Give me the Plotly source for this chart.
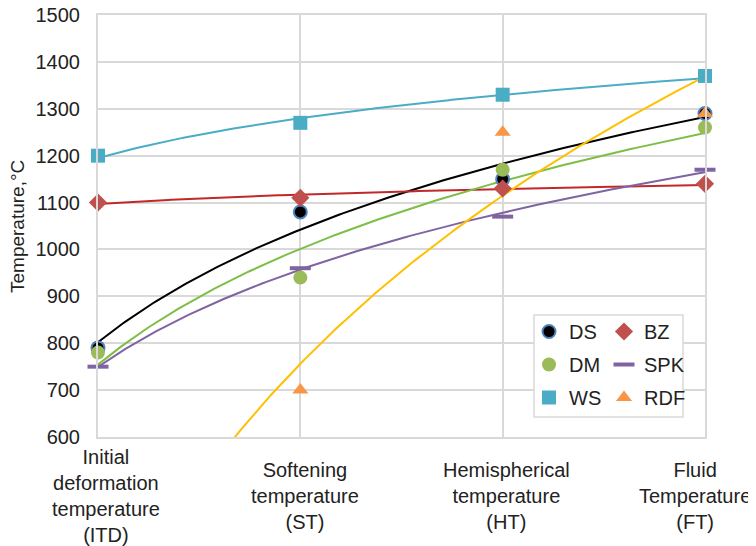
import numpy as np
import plotly.graph_objects as go

categories = ["Initial<br>deformation<br>temperature<br>(ITD)",
              "Softening<br>temperature<br>(ST)",
              "Hemispherical<br>temperature<br>(HT)",
              "Fluid<br>Temperature<br>(FT)"]
x_pos = [1, 2, 3, 4]

DS = [790, 1080, 1150, 1290]
BZ = [1100, 1110, 1130, 1140]
DM = [780, 940, 1170, 1260]
SPK = [750, 960, 1070, 1170]
WS = [1200, 1270, 1330, 1370]
RDF = [None, 700, 1250, 1290]

y_ticks = [600, 700, 800, 900, 1000, 1100, 1200, 1300, 1400, 1500]

series = [
    ("DS", DS, dict(symbol="circle", size=13, color="#000000", line=dict(color="#4F81BD", width=2)), "legend", "#000000"),
    ("BZ", BZ, dict(symbol="diamond", size=14, color="#C0504D", line=dict(width=0)), "legend2", "#C0282A"),
    ("DM", DM, dict(symbol="circle", size=14, color="#9BBB59", line=dict(width=0)), "legend", "#7DBE45"),
    ("SPK", SPK, dict(symbol="line-ew", size=15, color="#8064A2", line=dict(color="#8064A2", width=4)), "legend2", "#8064A2"),
    ("WS", WS, dict(symbol="square", size=14, color="#4BACC6", line=dict(width=0)), "legend", "#4BACC6"),
    ("RDF", RDF, dict(symbol="triangle-up", size=14, color="#F79646", line=dict(width=0)), "legend2", "#FFC000"),
]

fig = go.Figure()

xs = np.linspace(1, 4, 200)
# trendlines (logarithmic least-squares fit of each series, like a spreadsheet trendline)
for name, vals, mk, lg, tcol in series:
    px = np.array([x for x, v in zip(x_pos, vals) if v is not None], dtype=float)
    py = np.array([v for v in vals if v is not None], dtype=float)
    a, b = np.polyfit(np.log(px), py, 1)
    fig.add_trace(go.Scatter(x=xs, y=a * np.log(xs) + b, mode="lines",
                             line=dict(color=tcol, width=2), showlegend=False,
                             hoverinfo="skip"))

for name, vals, mk, lg, tcol in series:
    fig.add_trace(go.Scatter(x=x_pos, y=vals, mode="markers", name=name,
                             marker=mk, legend=lg, legendgroup=name, cliponaxis=False))

# the page body adds an 8px offset; figure is sized so the plot lands where the reference has it
OFF = 8
W, H = 756 - OFF, 546 - OFF
PL, PR, PT, PB = 98, 705, 15, 437          # target plot-area edges in window pixels
L, R, T, B = PL - OFF, 756 - PR, PT - OFF, 546 - PB
pw, ph = PR - PL, PB - PT

def px2x(p):
    return (p - PL) / pw

def py2y(p):
    return (PB - p) / ph

font = "Liberation Sans, Arial, sans-serif"
txt = "#222222"

leg_common = dict(orientation="v", bgcolor="rgba(0,0,0,0)", borderwidth=0,
                  font=dict(family=font, size=20, color=txt),
                  xanchor="left", yanchor="top", tracegroupgap=4, itemwidth=30)

fig.update_layout(
    width=W, height=H,
    margin=dict(l=L, r=R, t=T, b=B, autoexpand=False),
    paper_bgcolor="white", plot_bgcolor="white",
    font=dict(family=font, size=20, color=txt),
    xaxis=dict(range=[1, 4], tickvals=x_pos, ticktext=[""] * 4, automargin=False,
               showgrid=True, gridcolor="#D9D9D9", gridwidth=1.5,
               showline=True, linecolor="#D9D9D9", linewidth=2, mirror=True,
               zeroline=False, ticks=""),
    yaxis=dict(range=[600, 1500], tickvals=y_ticks, automargin=False,
               ticklabeloverflow="allow",
               showgrid=True, gridcolor="#D9D9D9", gridwidth=1.5,
               showline=True, linecolor="#D9D9D9", linewidth=2, mirror=True,
               zeroline=False, ticks="", ticklabelstandoff=12,
               tickfont=dict(size=20, color=txt)),
    legend=dict(x=px2x(529), y=py2y(312), **leg_common),
    legend2=dict(x=px2x(604), y=py2y(312), **leg_common),
    shapes=[dict(type="rect", xref="paper", yref="paper",
                 x0=px2x(534), x1=px2x(683), y0=py2y(417), y1=py2y(315),
                 line=dict(color="#D9D9D9", width=1.5), fillcolor="white", layer="above")],
)

fig.add_annotation(x=px2x(17), xref="paper", y=py2y(227), yref="paper",
                   xanchor="center", yanchor="middle", textangle=-90,
                   text="Temperature,°C", showarrow=False,
                   font=dict(family=font, size=19, color=txt))

label_shift = [8, 5, 4, -10]
for xp, lab, sh in zip(x_pos, categories, label_shift):
    fig.add_annotation(x=xp, xref="x", y=py2y(496), yref="paper", yanchor="middle",
                       xanchor="center", xshift=sh, text=lab, showarrow=False,
                       align="center",
                       font=dict(family=font, size=20, color=txt))

fig.write_html("out.html")
